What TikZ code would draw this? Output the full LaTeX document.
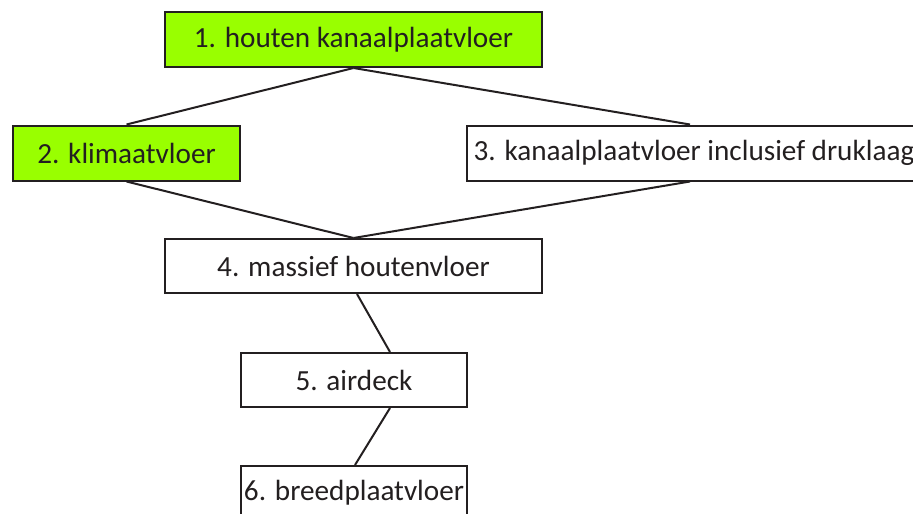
\documentclass[tikz,border=0pt]{standalone}
\usepackage{fontspec}
\setmainfont{Carlito}
\usepackage{tikz}
\definecolor{lime}{RGB}{153,255,0}
\definecolor{ink}{RGB}{35,31,32}
\tikzstyle{block} = [rectangle, draw=ink, line width=2pt, fill=white, text=ink,
    inner sep=0pt, minimum height=55pt, text centered,
    font=\fontsize{29.2}{34}\selectfont]
\tikzstyle{greenblock} = [block, fill=lime]
\tikzstyle{line} = [draw=ink, line width=2pt]

\begin{document}
\begin{tikzpicture}[node distance = 113pt]
            \useasboundingbox (0,0) rectangle (913pt,-514pt);
            \clip (0,0) rectangle (913pt,-514pt);
            % Place nodes
            \node [greenblock, minimum width=377pt] at (353.5pt,-39.5pt) (kanaal) {1. houten kanaalplaatvloer};
            \node [greenblock, below of=kanaal, node distance=113.5pt, xshift=-227pt, minimum width=227pt] (klimaat) {2. klimaatvloer};
            \node [block, below of=kanaal, node distance=113.5pt, xshift=339pt, minimum width=451pt] (druklaag) {\hspace*{3pt}3. kanaalplaatvloer inclusief druklaag};
            \node [block, below of=kanaal, node distance=226.5pt, minimum width=377pt, minimum height=54pt] (massief) {4. massief houtenvloer};
            \node [block, below of=massief, node distance=114pt, xshift=0.5pt, minimum width=226pt, minimum height=54pt] (airdeck) {5. airdeck};
            \node [block, below of=airdeck, minimum width=226pt, minimum height=54pt] (breed) {6. breedplaatvloer};
            % Draw edges
            \path [line] (kanaal.south) -- (klimaat.north);
            \path [line] (kanaal.south) -- ([xshift=-2.5pt]druklaag.north);
            \path [line] (klimaat.south) -- (massief.north);
            \path [line] ([xshift=-2.5pt]druklaag.south) -- (massief.north);
            \path [line] ([xshift=3.5pt]massief.south) -- ([xshift=36pt]airdeck.north);
            \path [line] ([xshift=36pt]airdeck.south) -- ([xshift=1pt]breed.north);
        \end{tikzpicture}
\end{document}
